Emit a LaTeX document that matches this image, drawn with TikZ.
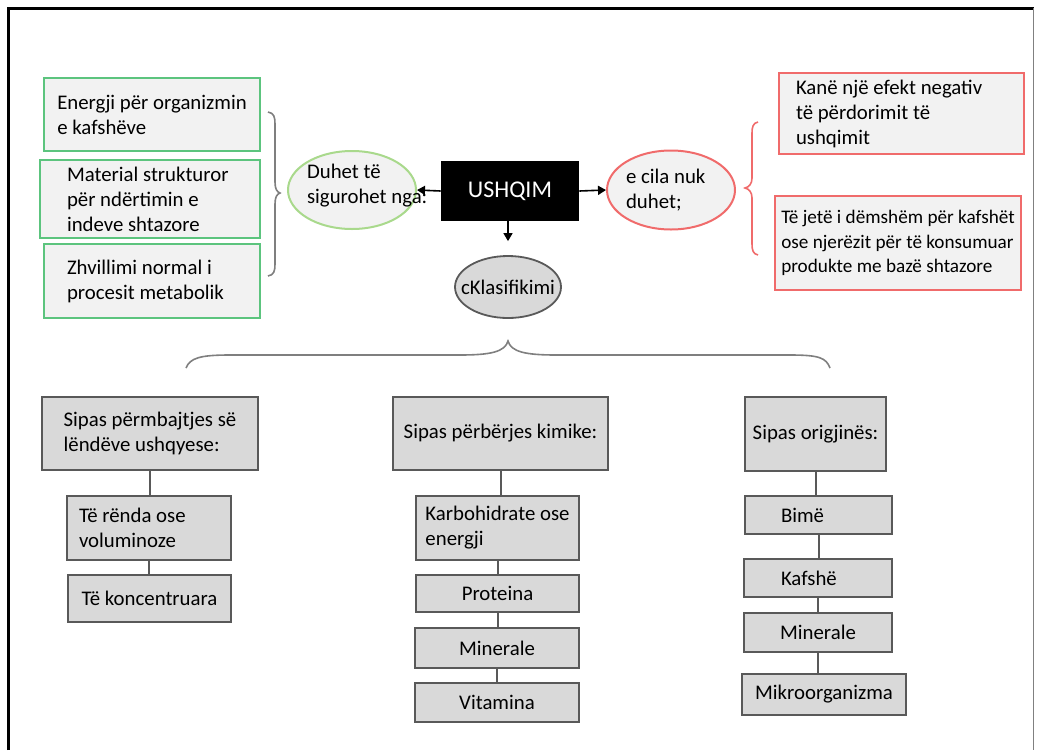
\documentclass[tikz,border=0pt]{standalone}
\usepackage{fontspec}
\setmainfont{Carlito}
\usetikzlibrary{shapes.geometric,arrows.meta}

\definecolor{boxgreen}{HTML}{5CC47E}
\definecolor{lightgreen}{HTML}{A9D98C}
\definecolor{boxred}{HTML}{F06B6B}
\definecolor{paper}{HTML}{F2F2F2}
\definecolor{cellgray}{HTML}{D9D9D9}
\definecolor{edge}{HTML}{595959}
\definecolor{bracegray}{HTML}{7F7F7F}

\begin{document}
\begin{tikzpicture}[x=0.5pt,y=-0.5pt,
		font=\fontsize{10.4}{12.5}\selectfont,
		wh/.style 2 args={minimum width=#1*0.5pt,minimum height=#2*0.5pt},
		pad/.style 2 args={align=flush left,inner xsep=#1,text width=#2},
		greenbox/.style={draw=boxgreen,fill=paper,line width=1pt,align=left},
		redbox/.style={draw=boxred,fill=paper,line width=1pt,align=left},
		graybox/.style={draw=edge,fill=cellgray,line width=1pt,align=left},
		conn/.style={draw=edge,line width=1pt},
		arr/.style={-{Triangle[width=4.5pt,length=4pt]},line width=0.8pt}]
				\useasboundingbox (0,0) rectangle (1038,750);
				\draw[line width=1.5pt] (8,750) -- (8,8) -- (1034,8);
				\draw[gray,line width=0.5pt] (1033,8) -- (1033,750);

				\node[greenbox,wh={216}{73}] (energji) at (152,114.5) {Energji për organizmin\\e kafshëve};
				\node[greenbox,wh={220}{74},pad={13.5pt}{83pt}] (material) at (150,199) {Material strukturor\\për ndërtimin e\\indeve shtazore};
				\node[greenbox,wh={216}{74},pad={11.5pt}{85pt}] (zhvillimi) at (152,281) {Zhvillimi normal i\\procesit metabolik};
				\draw[bracegray,line width=0.8pt] (268,112) .. controls (274,113) and (275,117) .. (275,124) -- (275,182) .. controls (275,189) and (277,192) .. (280,193) .. controls (277,194) and (275,197) .. (275,204) -- (275,264) .. controls (275,271) and (274,275) .. (268,276);

				\node[ellipse,draw=lightgreen,fill=paper,line width=1pt,wh={128}{78}] (duhet) at (352,190) {};
				\node[align=left,anchor=west,xshift=6.5pt,yshift=2pt] (duhettext) at (duhet.west) {Duhet të\\sigurohet nga:};

				\node[fill=black,text=white,font=\fontsize{12}{14}\selectfont,wh={138}{60}] (ushqim) at (510,191) {USHQIM};

				\node[ellipse,draw=boxred,fill=paper,line width=1pt,wh={128}{79}] (cila) at (671,190) {};
				\node[align=left,anchor=west,xshift=6.5pt] (cilatext) at (cila.west) {e cila nuk\\duhet;};

				\node[ellipse,draw=edge,fill=cellgray,line width=0.9pt,wh={106}{62}] (klas) at (508,287) {};
				\node (klastext) at (klas) {cKlasifikimi};

				\draw[arr] (ushqim.west) -- (duhet.east);
				\draw[arr] (ushqim.east) -- (cila.west);
				\draw[arr,shorten >=7pt] (ushqim.south -| klas) -- (klas.north);

				\draw[boxred,line width=0.8pt] (758,122) .. controls (753,123) and (752,127) .. (752,133) -- (752,178) .. controls (752,184) and (749,187) .. (745,188) .. controls (749,189) and (752,192) .. (752,198) -- (752,244) .. controls (752,250) and (753,254) .. (758,255);
				\node[redbox,wh={245}{73},pad={8.5pt}{105.5pt}] (negativ) at (901.5,113.5) {Kanë një efekt negativ\\të përdorimit të\\ushqimit};
				\node[redbox,wh={244}{94},font=\fontsize{9.6}{12.3}\selectfont] (demshem) at (898,243) {Të jetë i dëmshëm për kafshët\\ose njerëzit për të konsumuar\\produkte me bazë shtazore};

				\draw[bracegray,line width=0.8pt] (186,368) .. controls (190,358) and (200,355) .. (230,355) -- (460,355) .. controls (490,355) and (505,352) .. (508,341) .. controls (511,352) and (526,355) .. (556,355) -- (790,355) .. controls (820,355) and (826,358) .. (830,368);

				\node[graybox,wh={216}{73}] (lende) at (150,433.5) {Sipas përmbajtjes së\\lëndëve ushqyese:};
				\node[graybox,wh={164}{64},pad={6pt}{70pt}] (renda) at (149,528) {Të rënda ose\\voluminoze};
				\node[graybox,wh={163}{47}] (konc) at (149.5,598.5) {Të koncentruara};

				\node[graybox,wh={215}{73}] (kimike) at (500.5,433.5) {Sipas përbërjes kimike:};
				\node[graybox,wh={163}{64}] (karbo) at (497.5,528) {Karbohidrate ose\\energji};
				\node[graybox,wh={163}{37}] (proteina) at (497.5,593.5) {Proteina};
				\node[graybox,wh={164}{40}] (minerale) at (497,648) {Minerale};
				\node[graybox,wh={164}{39}] (vitamina) at (497,702.5) {Vitamina};

				\node[graybox,wh={141}{74}] (origjina) at (815.5,434) {Sipas origjinës:};
				\node[graybox,wh={147}{38},pad={18pt}{37.5pt}] (bime) at (818.5,515) {Bimë};
				\node[graybox,wh={148}{38},pad={18.5pt}{37pt}] (kafshe) at (818,578) {Kafshë};
				\node[graybox,wh={148}{39}] (mineralo) at (818,632.5) {Minerale};
				\node[graybox,wh={164}{41}] (mikro) at (824,694.5) {Mikroorganizma};

				\foreach \a/\b in {lende/renda,renda/konc,kimike/karbo,karbo/proteina,proteina/minerale,minerale/vitamina,origjina/bime,bime/kafshe,kafshe/mineralo,mineralo/mikro}
					\draw[conn] (\a.south) -- (\a.south |- \b.north);
			\end{tikzpicture}
\end{document}
